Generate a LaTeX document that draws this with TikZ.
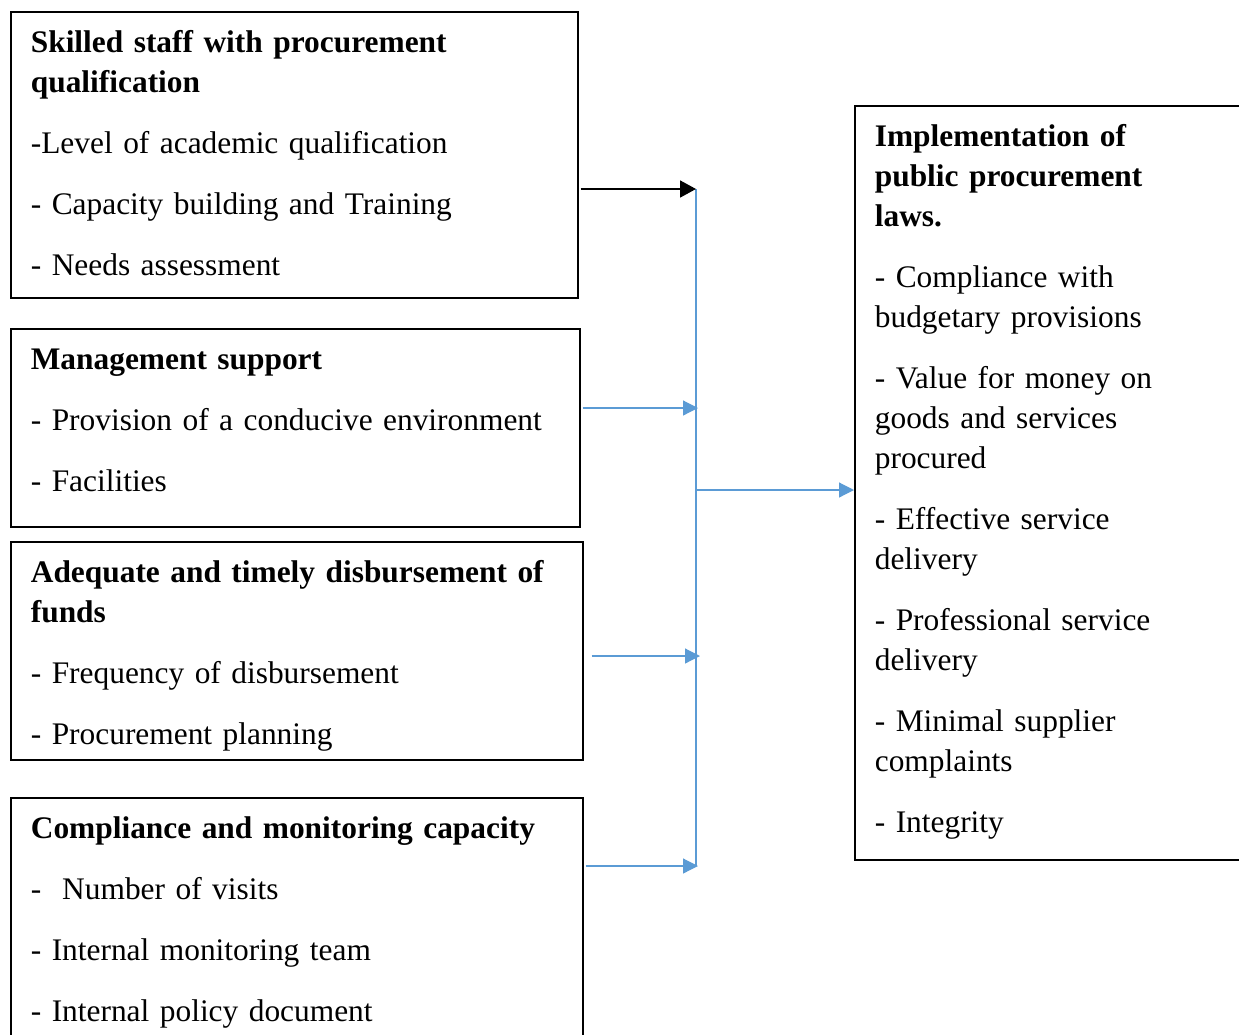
\documentclass[tikz,border=0pt]{standalone}
\usepackage{fontspec}
\setmainfont{Liberation Serif}
\usetikzlibrary{arrows.meta}
\definecolor{linkblue}{HTML}{5B9BD5}
\tikzset{
	factor/.style={draw,line width=0.85pt,anchor=north west,align=left,inner xsep=10pt,inner ysep=0pt,
		text height=20.5pt,font=\fontsize{15.7pt}{20pt}\selectfont},
	feed/.style={black,line width=0.9pt,-{Triangle[length=8pt,width=8.5pt]}},
	link/.style={linkblue,line width=0.6pt,-{Triangle[length=7.5pt,width=7.5pt]}},
	bus/.style={linkblue,line width=0.6pt}
}
\begin{document}
\begin{tikzpicture}[x=0.5pt,y=-0.5pt,line cap=butt,line join=miter]
		\useasboundingbox (0,0) rectangle (1239,1035);
		% independent factors
		\node[factor,text width=263.5pt,text depth=122.5pt] (skill) at (10,11)
		{{\bfseries Skilled staff with procurement\\ qualification}\\[10.5pt]
			-Level of academic qualification\\[10.5pt]
			- Capacity building and Training\\[10.5pt]
			- Needs assessment};
		\node[factor,text width=264.5pt,text depth=78.5pt] (support) at (10,328)
		{{\bfseries Management support}\\[10.5pt]
			- Provision of a conducive environment\\[10.5pt]
			- Facilities};
		\node[factor,text width=266pt,text depth=88.5pt] (funds) at (10,541)
		{{\bfseries Adequate and timely disbursement of\\ funds}\\[10.5pt]
			- Frequency of disbursement\\[10.5pt]
			- Procurement planning};
		\node[factor,text width=266pt,text depth=103.5pt] (monitor) at (10,797)
		{{\bfseries Compliance and monitoring capacity}\\[10.5pt]
			-\ \ Number of visits\\[10.5pt]
			- Internal monitoring team\\[10.5pt]
			- Internal policy document};
		% dependent variable
		\node[factor,text width=175.5pt,text depth=356.5pt] (impl) at (854,105)
		{{\bfseries Implementation of\\ public procurement\\ laws.}\\[10.5pt]
			- Compliance with\\ budgetary provisions\\[10.5pt]
			- Value for money on\\ goods and services\\ procured\\[10.5pt]
			- Effective service\\ delivery\\[10.5pt]
			- Professional service\\ delivery\\[10.5pt]
			- Minimal supplier\\ complaints\\[10.5pt]
			- Integrity};
		% joining line
		\coordinate (b1) at (696,189);
		\coordinate (b2) at (698,408);
		\coordinate (b3) at (700,656);
		\coordinate (b4) at (698,866);
		\coordinate (bout) at (696,490);
		\draw[bus] (b1) -- (696,866);
		\draw[feed,shorten <=1pt] (skill.east |- b1) -- (b1);
		\draw[link,shorten <=1pt] (support.east |- b2) -- (b2);
		\draw[link,shorten <=4pt] (funds.east |- b3) -- (b3);
		\draw[link,shorten <=1pt] (monitor.east |- b4) -- (b4);
		\draw[link] (bout) -- (impl.west |- bout);
	\end{tikzpicture}
\end{document}
